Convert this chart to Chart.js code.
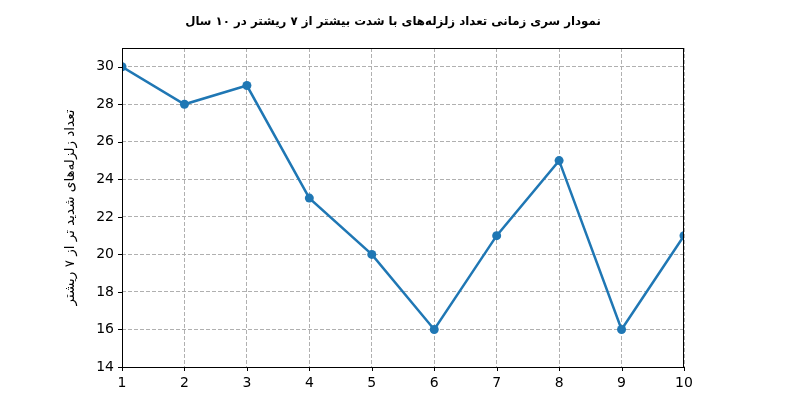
<!DOCTYPE html>
<html>
<head>
<meta charset="utf-8">
<script src="https://cdn.jsdelivr.net/npm/chart.js@4.4.1/dist/chart.umd.min.js"></script>
<style>
html,body{margin:0;padding:0;background:#fff;}
#wrap{width:786px;height:402px;}
</style>
</head>
<body>
<div id="wrap"><canvas id="c" width="786" height="402"></canvas></div>
<script>
const years = [1, 2, 3, 4, 5, 6, 7, 8, 9, 10];
const counts = [30, 28, 29, 23, 20, 16, 21, 25, 16, 21];
const yTicks = [14, 16, 18, 20, 22, 24, 26, 28, 30];
const xTicks = [1, 2, 3, 4, 5, 6, 7, 8, 9, 10];
const titleText = 'نمودار سری زمانی تعداد زلزله‌های با شدت بیشتر از ۷ ریشتر در ۱۰ سال';
const yLabel = 'تعداد زلزله‌های شدید تر از ۷ ریشتر';

const FONT = "'DejaVu Sans', sans-serif";

const axesPlugin = {
  id: 'mplAxes',
  afterDraw(chart) {
    const {ctx, chartArea: a, scales} = chart;
    ctx.save();
    ctx.strokeStyle = '#000';
    ctx.lineWidth = 1;
    ctx.setLineDash([]);
    ctx.strokeRect(a.left + 0.5, a.top + 0.5, a.right - a.left - 1, a.bottom - a.top);
    ctx.beginPath();
    xTicks.forEach(v => {
      const x = Math.round(scales.x.getPixelForValue(v)) + 0.5;
      ctx.moveTo(x, a.bottom); ctx.lineTo(x, a.bottom + 4);
    });
    yTicks.forEach(v => {
      const y = Math.round(scales.y.getPixelForValue(v)) + 0.5;
      ctx.moveTo(a.left, y); ctx.lineTo(a.left - 4, y);
    });
    ctx.stroke();
    // figure title, centred on the whole figure
    ctx.fillStyle = '#000';
    ctx.font = "bold 11.8px " + FONT;
    ctx.textAlign = 'center';
    ctx.textBaseline = 'middle';
    ctx.direction = 'rtl';
    ctx.fillText(titleText, chart.width / 2, 22);
    ctx.restore();
  }
};

new Chart(document.getElementById('c'), {
  type: 'line',
  data: {
    datasets: [{
      data: years.map((x, i) => ({x, y: counts[i]})),
      borderColor: '#1f77b4',
      backgroundColor: '#1f77b4',
      borderWidth: 2.5,
      pointRadius: 4.5,
      pointHoverRadius: 4.5,
      pointBorderWidth: 0,
      tension: 0,
      clip: 0
    }]
  },
  options: {
    responsive: false,
    animation: false,
    devicePixelRatio: 1,
    layout: {padding: {left: 0, right: 102, top: 48, bottom: 0}},
    plugins: {
      legend: {display: false},
      tooltip: {enabled: false},
      title: {display: false}
    },
    scales: {
      x: {
        type: 'linear',
        min: 1, max: 10,
        afterBuildTicks(s) { s.ticks = xTicks.map(v => ({value: v})); },
        afterFit(s) { s.height = 35; },
        grid: {color: '#b0b0b0', lineWidth: 1, drawTicks: false},
        border: {display: false, dash: [4, 2]},
        ticks: {color: '#000', padding: 8, font: {family: FONT, size: 14}, maxRotation: 0}
      },
      y: {
        min: 14, max: 31,
        afterBuildTicks(s) { s.ticks = yTicks.map(v => ({value: v})); },
        afterFit(s) { s.width = 122; },
        grid: {color: '#b0b0b0', lineWidth: 1, drawTicks: false},
        border: {display: false, dash: [4, 2]},
        ticks: {color: '#000', padding: 8, font: {family: FONT, size: 14}},
        title: {
          display: true,
          text: yLabel,
          color: '#000',
          font: {family: FONT, size: 13.5},
          padding: {top: 62, bottom: 0}
        }
      }
    }
  },
  plugins: [axesPlugin]
});
</script>
</body>
</html>
